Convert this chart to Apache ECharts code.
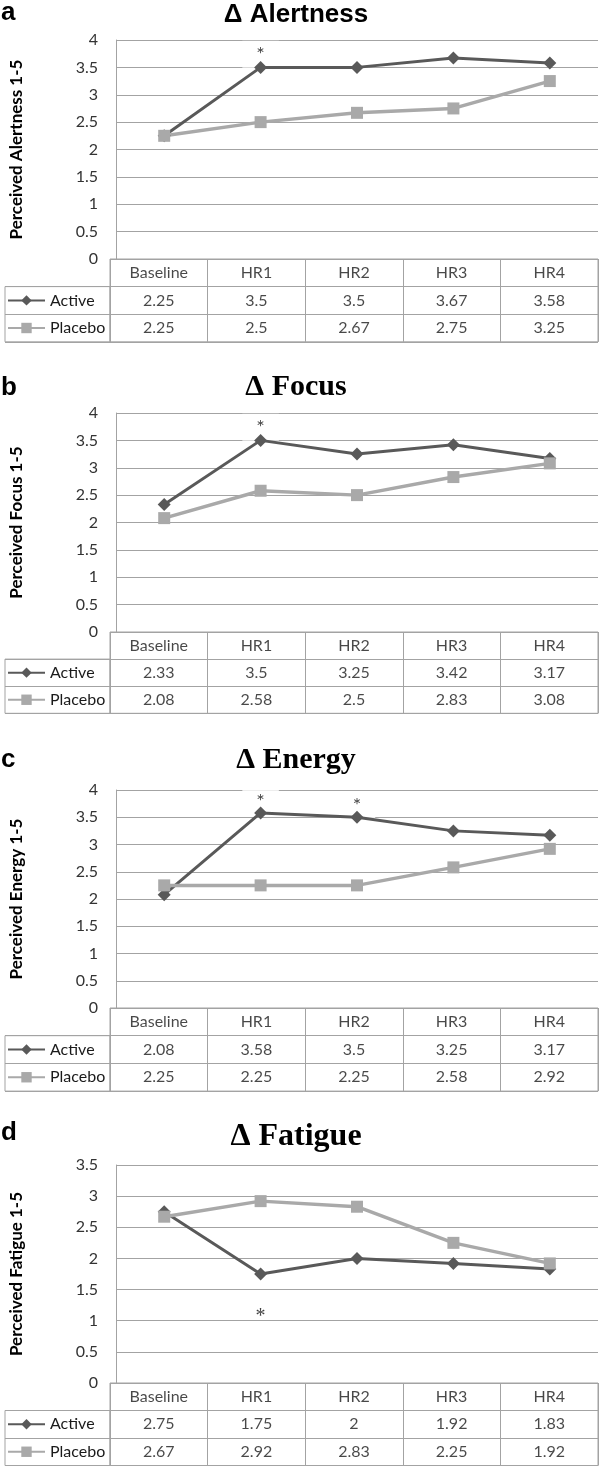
<!DOCTYPE html>
<html><head><meta charset="utf-8">
<script src="https://cdn.jsdelivr.net/npm/echarts@6/dist/echarts.min.js"></script>
<style>html,body{margin:0;padding:0;background:#fff}#c{width:600px;height:1468px}</style>
</head><body><div id="c"></div><script>
// ---- data ----
const categories = ['Baseline', 'HR1', 'HR2', 'HR3', 'HR4'];
const seriesNames = ['Active', 'Placebo'];
const panelLetters = ['a', 'b', 'c', 'd'];
const panelTitles = ['Δ Alertness', 'Δ Focus', 'Δ Energy', 'Δ Fatigue'];
const yAxisNames = ['Perceived Alertness 1-5', 'Perceived Focus 1-5', 'Perceived Energy 1-5', 'Perceived Fatigue 1-5'];
const yAxisMax = [4, 4, 4, 3.5];
const alertnessActive = [2.25, 3.5, 3.5, 3.67, 3.58];
const alertnessPlacebo = [2.25, 2.5, 2.67, 2.75, 3.25];
const focusActive = [2.33, 3.5, 3.25, 3.42, 3.17];
const focusPlacebo = [2.08, 2.58, 2.5, 2.83, 3.08];
const energyActive = [2.08, 3.58, 3.5, 3.25, 3.17];
const energyPlacebo = [2.25, 2.25, 2.25, 2.58, 2.92];
const fatigueActive = [2.75, 1.75, 2, 1.92, 1.83];
const fatiguePlacebo = [2.67, 2.92, 2.83, 2.25, 1.92];
// significance asterisk positions (y value), null = none
const alertnessSig = [null, 3.74, null, null, null];
const focusSig = [null, 3.74, null, null, null];
const energySig = [null, 3.78, 3.71, null, null];
const fatigueSig = [null, 1.07, null, null, null];

const activeSets = [alertnessActive, focusActive, energyActive, fatigueActive];
const placeboSets = [alertnessPlacebo, focusPlacebo, energyPlacebo, fatiguePlacebo];
const sigSets = [alertnessSig, focusSig, energySig, fatigueSig];

// ---- layout / style ----
const layout = [
  {top: 40, zero: 259, rowH: 27.6, letterTop: 0, titleTop: 2, titleFont: '"Liberation Sans", Arial, sans-serif', titleSize: 26, sigBox: true},
  {top: 413, zero: 632, rowH: 27.1, letterTop: 375, titleTop: 372, titleFont: '"Liberation Serif", "Times New Roman", serif', titleSize: 30, sigBox: true},
  {top: 790, zero: 1008, rowH: 27.7, letterTop: 747, titleTop: 745, titleFont: '"Liberation Serif", "Times New Roman", serif', titleSize: 30, sigBox: true},
  {top: 1165, zero: 1383, rowH: 27.5, letterTop: 1120, titleTop: 1121, titleFont: '"Liberation Serif", "Times New Roman", serif', titleSize: 32, sigBox: false}
];
const GRID = '#a3a3a3';
const ACT = '#595959';
const PLA = '#a9a9a9';
const TXT = '#1a1a1a';
const FONT = 'Lato, "Open Sans", sans-serif';

const option = {
  animation: false,
  backgroundColor: '#fff',
  title: [], grid: [], xAxis: [], yAxis: [], series: [], legend: []
};

panelLetters.forEach((letter, i) => {
  const L = layout[i];
  const act = activeSets[i], pla = placeboSets[i], sig = sigSets[i];
  const rowCount = 3;
  option.title.push({
    text: letter, left: 1, top: L.letterTop, padding: 0,
    textStyle: {fontFamily: '"Liberation Sans", Arial, sans-serif', fontWeight: 'bold', fontSize: 26, lineHeight: 26, color: '#000'}
  });
  option.title.push({
    text: panelTitles[i], left: 296, textAlign: 'center', top: L.titleTop, padding: 0,
    textStyle: {fontFamily: L.titleFont, fontWeight: 'bold', fontSize: L.titleSize, lineHeight: L.titleSize, color: '#000'}
  });
  // plot grid
  option.grid.push({left: 110, right: 2, top: L.top, height: L.zero - L.top});
  // table grid
  option.grid.push({left: 110, right: 2, top: L.zero, height: rowCount * L.rowH, show: true, borderColor: GRID, borderWidth: 1});
  // legend column grid
  option.grid.push({left: 5, width: 105, top: L.zero + L.rowH, height: 2 * L.rowH, show: true, borderColor: GRID, borderWidth: 1});
  const g = 3 * i;
  option.xAxis.push({
    gridIndex: g, type: 'category', data: categories, boundaryGap: true,
    axisLine: {show: true, lineStyle: {color: GRID, width: 1}}, axisTick: {show: false}, axisLabel: {show: false}
  });
  option.yAxis.push({
    gridIndex: g, type: 'value', min: 0, max: yAxisMax[i], interval: 0.5,
    axisLine: {show: true, lineStyle: {color: GRID, width: 1}}, axisTick: {show: false},
    splitLine: {show: true, lineStyle: {color: GRID, width: 1}},
    axisLabel: {fontSize: 16, margin: 18, color: '#333', fontFamily: FONT},
    name: yAxisNames[i], nameLocation: 'middle', nameRotate: 90, nameGap: 91,
    nameTextStyle: {fontFamily: FONT, fontWeight: 'bold', fontSize: 17, color: '#000'}
  });
  option.xAxis.push({
    gridIndex: g + 1, type: 'category', data: categories,
    axisLine: {show: false}, axisTick: {show: false}, axisLabel: {show: false},
    splitLine: {show: true, interval: 0, lineStyle: {color: GRID, width: 1}}
  });
  option.yAxis.push({
    gridIndex: g + 1, type: 'category', data: ['header'].concat(seriesNames), inverse: true,
    axisLine: {show: false}, axisTick: {show: false}, axisLabel: {show: false},
    splitLine: {show: true, interval: 0, lineStyle: {color: GRID, width: 1}}
  });
  option.xAxis.push({
    gridIndex: g + 2, type: 'category', data: ['key'],
    axisLine: {show: false}, axisTick: {show: false}, axisLabel: {show: false}, splitLine: {show: false}
  });
  option.yAxis.push({
    gridIndex: g + 2, type: 'category', data: seriesNames, inverse: true,
    axisLine: {show: false}, axisTick: {show: false}, axisLabel: {show: false},
    splitLine: {show: true, interval: 0, lineStyle: {color: GRID, width: 1}}
  });
  // significance asterisks
  const sigData = [];
  sig.forEach((v, j) => { if (v != null) sigData.push({value: [j, v], name: '*'}); });
  option.series.push({
    type: 'scatter', xAxisIndex: g, yAxisIndex: g, z: 1, silent: true,
    symbolSize: 1, itemStyle: {color: 'rgba(0,0,0,0)'},
    data: sigData,
    label: {
      show: true, position: 'inside', formatter: '{b}', fontSize: 20, lineHeight: 20, color: '#111',
      fontFamily: L.sigBox ? FONT : '"Liberation Serif", serif',
      backgroundColor: L.sigBox ? '#fff' : 'transparent', padding: [7, 14, 0, 14]
    }
  });
  option.series.push({
    name: 'Active', type: 'line', xAxisIndex: g, yAxisIndex: g, z: 3,
    data: act, symbol: 'diamond', symbolSize: 13, showSymbol: true,
    lineStyle: {color: ACT, width: 3}, itemStyle: {color: ACT}
  });
  option.series.push({
    name: 'Placebo', type: 'line', xAxisIndex: g, yAxisIndex: g, z: 3,
    data: pla, symbol: 'rect', symbolSize: 12, showSymbol: true,
    lineStyle: {color: PLA, width: 3.5}, itemStyle: {color: PLA}
  });
  // table cells
  const cells = [];
  categories.forEach((c, j) => {
    cells.push({value: [j, 0], name: c});
    cells.push({value: [j, 1], name: String(act[j])});
    cells.push({value: [j, 2], name: String(pla[j])});
  });
  option.series.push({
    type: 'scatter', xAxisIndex: g + 1, yAxisIndex: g + 1, silent: true,
    symbolSize: 1, itemStyle: {color: 'rgba(0,0,0,0)'},
    data: cells,
    label: {show: true, position: 'inside', formatter: '{b}', fontSize: 16, color: TXT, fontFamily: FONT}
  });
  option.legend.push({
    data: seriesNames, orient: 'vertical', left: 7, top: L.zero + 1.5 * L.rowH - 10,
    itemWidth: 37, itemHeight: 13, itemGap: L.rowH - 20, padding: 0, selectedMode: false,
    textStyle: {fontSize: 16, lineHeight: 20, color: TXT, fontFamily: FONT}
  });
});

const chart = echarts.init(document.getElementById('c'), null, {renderer: 'canvas'});
chart.setOption(option);
</script></body></html>
